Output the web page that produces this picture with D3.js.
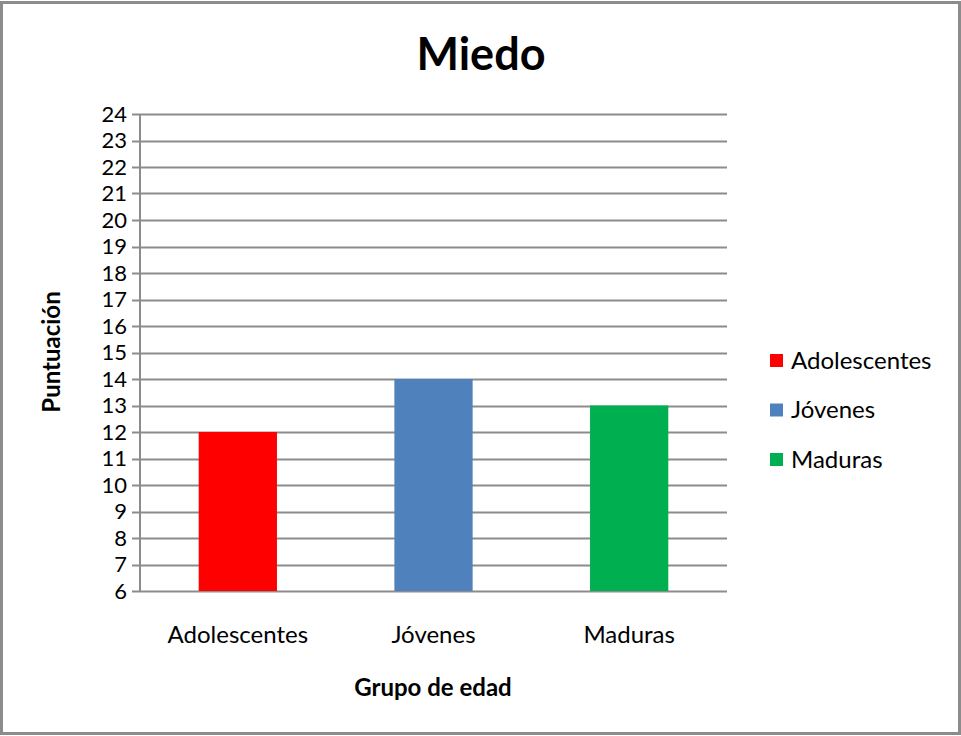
<!DOCTYPE html>
<html>
<head>
<meta charset="utf-8">
<script src="https://cdn.jsdelivr.net/npm/d3@7"></script>
<style>
  body { margin: 0; background: #fff; }
  text { font-family: Lato, "Open Sans", sans-serif; fill: #000; }
</style>
</head>
<body>
<div id="chart"></div>
<script>
// data
var categories = ["Adolescentes", "Jóvenes", "Maduras"];
var values = [12, 14, 13];
var colors = ["#ff0000", "#4f81bd", "#00b050"];
var yTicks = d3.range(6, 25);

var W = 961, H = 736;
var svg = d3.select("#chart").append("svg")
    .attr("width", W)
    .attr("height", H);

// outer frame
svg.append("rect")
    .attr("x", 1.5).attr("y", 2.5)
    .attr("width", W - 3).attr("height", H - 5)
    .attr("fill", "#fff")
    .attr("stroke", "#8c8c8c")
    .attr("stroke-width", 3);

var plotL = 140, plotR = 727, plotT = 114, plotB = 591;

var x = d3.scaleBand().domain(categories).range([plotL, plotR]).paddingInner(0.6).paddingOuter(0.3);
var y = d3.scaleLinear().domain([6, 24]).range([plotB, plotT]);

// gridlines
svg.append("g")
    .selectAll("line")
    .data(yTicks)
    .enter().append("line")
    .attr("x1", plotL - 8)
    .attr("x2", plotR)
    .attr("y1", function(d) { return Math.round(y(d)) + 0.5; })
    .attr("y2", function(d) { return Math.round(y(d)) + 0.5; })
    .attr("stroke", "#8c8c8c")
    .attr("stroke-width", 2);

// bars
svg.append("g")
    .selectAll("rect")
    .data(values)
    .enter().append("rect")
    .attr("x", function(d, i) { return x(categories[i]); })
    .attr("y", function(d) { return y(d); })
    .attr("width", x.bandwidth())
    .attr("height", function(d) { return y(6) - y(d); })
    .attr("fill", function(d, i) { return colors[i]; });

// y axis line
svg.append("line")
    .attr("x1", plotL).attr("x2", plotL)
    .attr("y1", plotT).attr("y2", plotB + 1)
    .attr("stroke", "#8c8c8c")
    .attr("stroke-width", 2);

// y tick labels
svg.append("g")
    .selectAll("text")
    .data(yTicks)
    .enter().append("text")
    .attr("x", plotL - 13)
    .attr("y", function(d) { return y(d); })
    .attr("dy", "0.36em")
    .attr("text-anchor", "end")
    .style("font-size", "22px")
    .text(function(d) { return d; });

// x labels
svg.append("g")
    .selectAll("text")
    .data(categories)
    .enter().append("text")
    .attr("x", function(d) { return x(d) + x.bandwidth() / 2; })
    .attr("y", 643)
    .attr("text-anchor", "middle")
    .style("font-size", "24px")
    .text(function(d) { return d; });

// title
svg.append("text")
    .attr("x", 481).attr("y", 70)
    .attr("text-anchor", "middle")
    .style("font-size", "45px")
    .style("font-weight", "bold")
    .text("Miedo");

// axis titles
svg.append("text")
    .attr("x", 433).attr("y", 696)
    .attr("text-anchor", "middle")
    .style("font-size", "24px")
    .style("font-weight", "bold")
    .text("Grupo de edad");

svg.append("text")
    .attr("transform", "translate(60,352) rotate(-90)")
    .attr("text-anchor", "middle")
    .style("font-size", "24px")
    .style("font-weight", "bold")
    .text("Puntuación");

// legend
var legend = svg.append("g")
    .selectAll("g")
    .data(categories)
    .enter().append("g")
    .attr("transform", function(d, i) { return "translate(770," + (360 + i * 49.5) + ")"; });

legend.append("rect")
    .attr("x", 0).attr("y", -6)
    .attr("width", 13).attr("height", 13)
    .attr("fill", function(d, i) { return colors[i]; });

legend.append("text")
    .attr("x", 21).attr("y", 0)
    .attr("dy", "0.36em")
    .style("font-size", "24px")
    .text(function(d) { return d; });
</script>
</body>
</html>
